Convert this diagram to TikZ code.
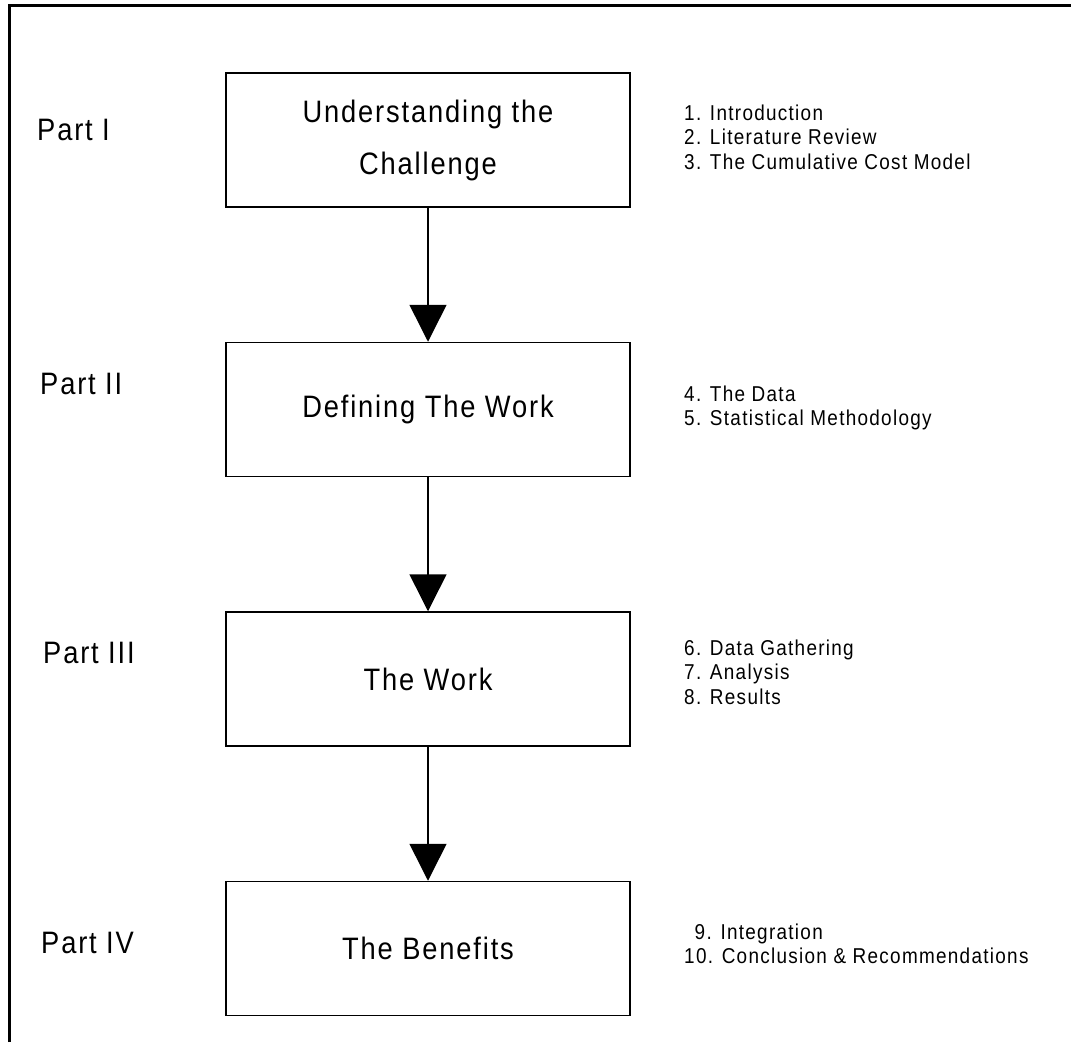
\documentclass[tikz,border=0pt]{standalone}
\usepackage{fontspec}
\setmainfont{Liberation Sans}[FakeStretch=0.88,LetterSpace=6]
\usepackage{tikz}
\usetikzlibrary{positioning,arrows.meta}

\begin{document}
\begin{tikzpicture}[x=1pt,y=-1pt]
          \tikzset{StageStyle/.style = {
              shape = rectangle,
              draw,
              line width = 1.5pt,
              minimum width = 404pt,
              minimum height = 134pt,
              align = center,
              font = \fontsize{31}{52}\selectfont},
            PartStyle/.style = {
              anchor = west,
              inner sep = 0pt,
              font = \fontsize{31}{36}\selectfont},
            ChapterStyle/.style = {
              anchor = west,
              inner sep = 0pt,
              align = left,
              font = \fontsize{21.5}{24.6}\selectfont},
            FlowStyle/.style = {
              line width = 1.5pt,
              -{Triangle[width=37pt,length=37pt]}}}
          \useasboundingbox (0,0) rectangle (1071,1042);
          %% frame, open at right and bottom
          \draw[line width=3pt] (9.5,1042) -- (9.5,5.5) -- (1071,5.5);
          %% the four stages
          \node[StageStyle] (challenge) at (428,140) {Understanding the\\Challenge};
          \node[StageStyle, below=134pt of challenge] (defining) {Defining The Work};
          \node[StageStyle, below=134pt of defining] (work) {The Work};
          \node[StageStyle, below=134pt of work] (benefits) {The Benefits};
          \draw[FlowStyle] (challenge) -- (defining);
          \draw[FlowStyle] (defining) -- (work);
          \draw[FlowStyle] (work) -- (benefits);
          %% part labels
          \node[PartStyle] (part1) at (37,130) {Part I};
          \node[PartStyle] (part2) at (40,384) {Part II};
          \node[PartStyle] (part3) at (43,653) {Part III};
          \node[PartStyle] (part4) at (41,943) {Part IV};
          %% chapters
          \node[ChapterStyle] (chap1) at (684,137) {1. Introduction\\2. Literature Review\\3. The Cumulative Cost Model};
          \node[ChapterStyle] (chap2) at (684,408) {4. The Data\\5. Statistical Methodology};
          \node[ChapterStyle] (chap3) at (684,672) {6. Data Gathering\\7. Analysis\\8. Results};
          \node[ChapterStyle] (chap4) at (684,944) {\phantom{1}9. Integration\\10. Conclusion \& Recommendations};
        \end{tikzpicture}
\end{document}
